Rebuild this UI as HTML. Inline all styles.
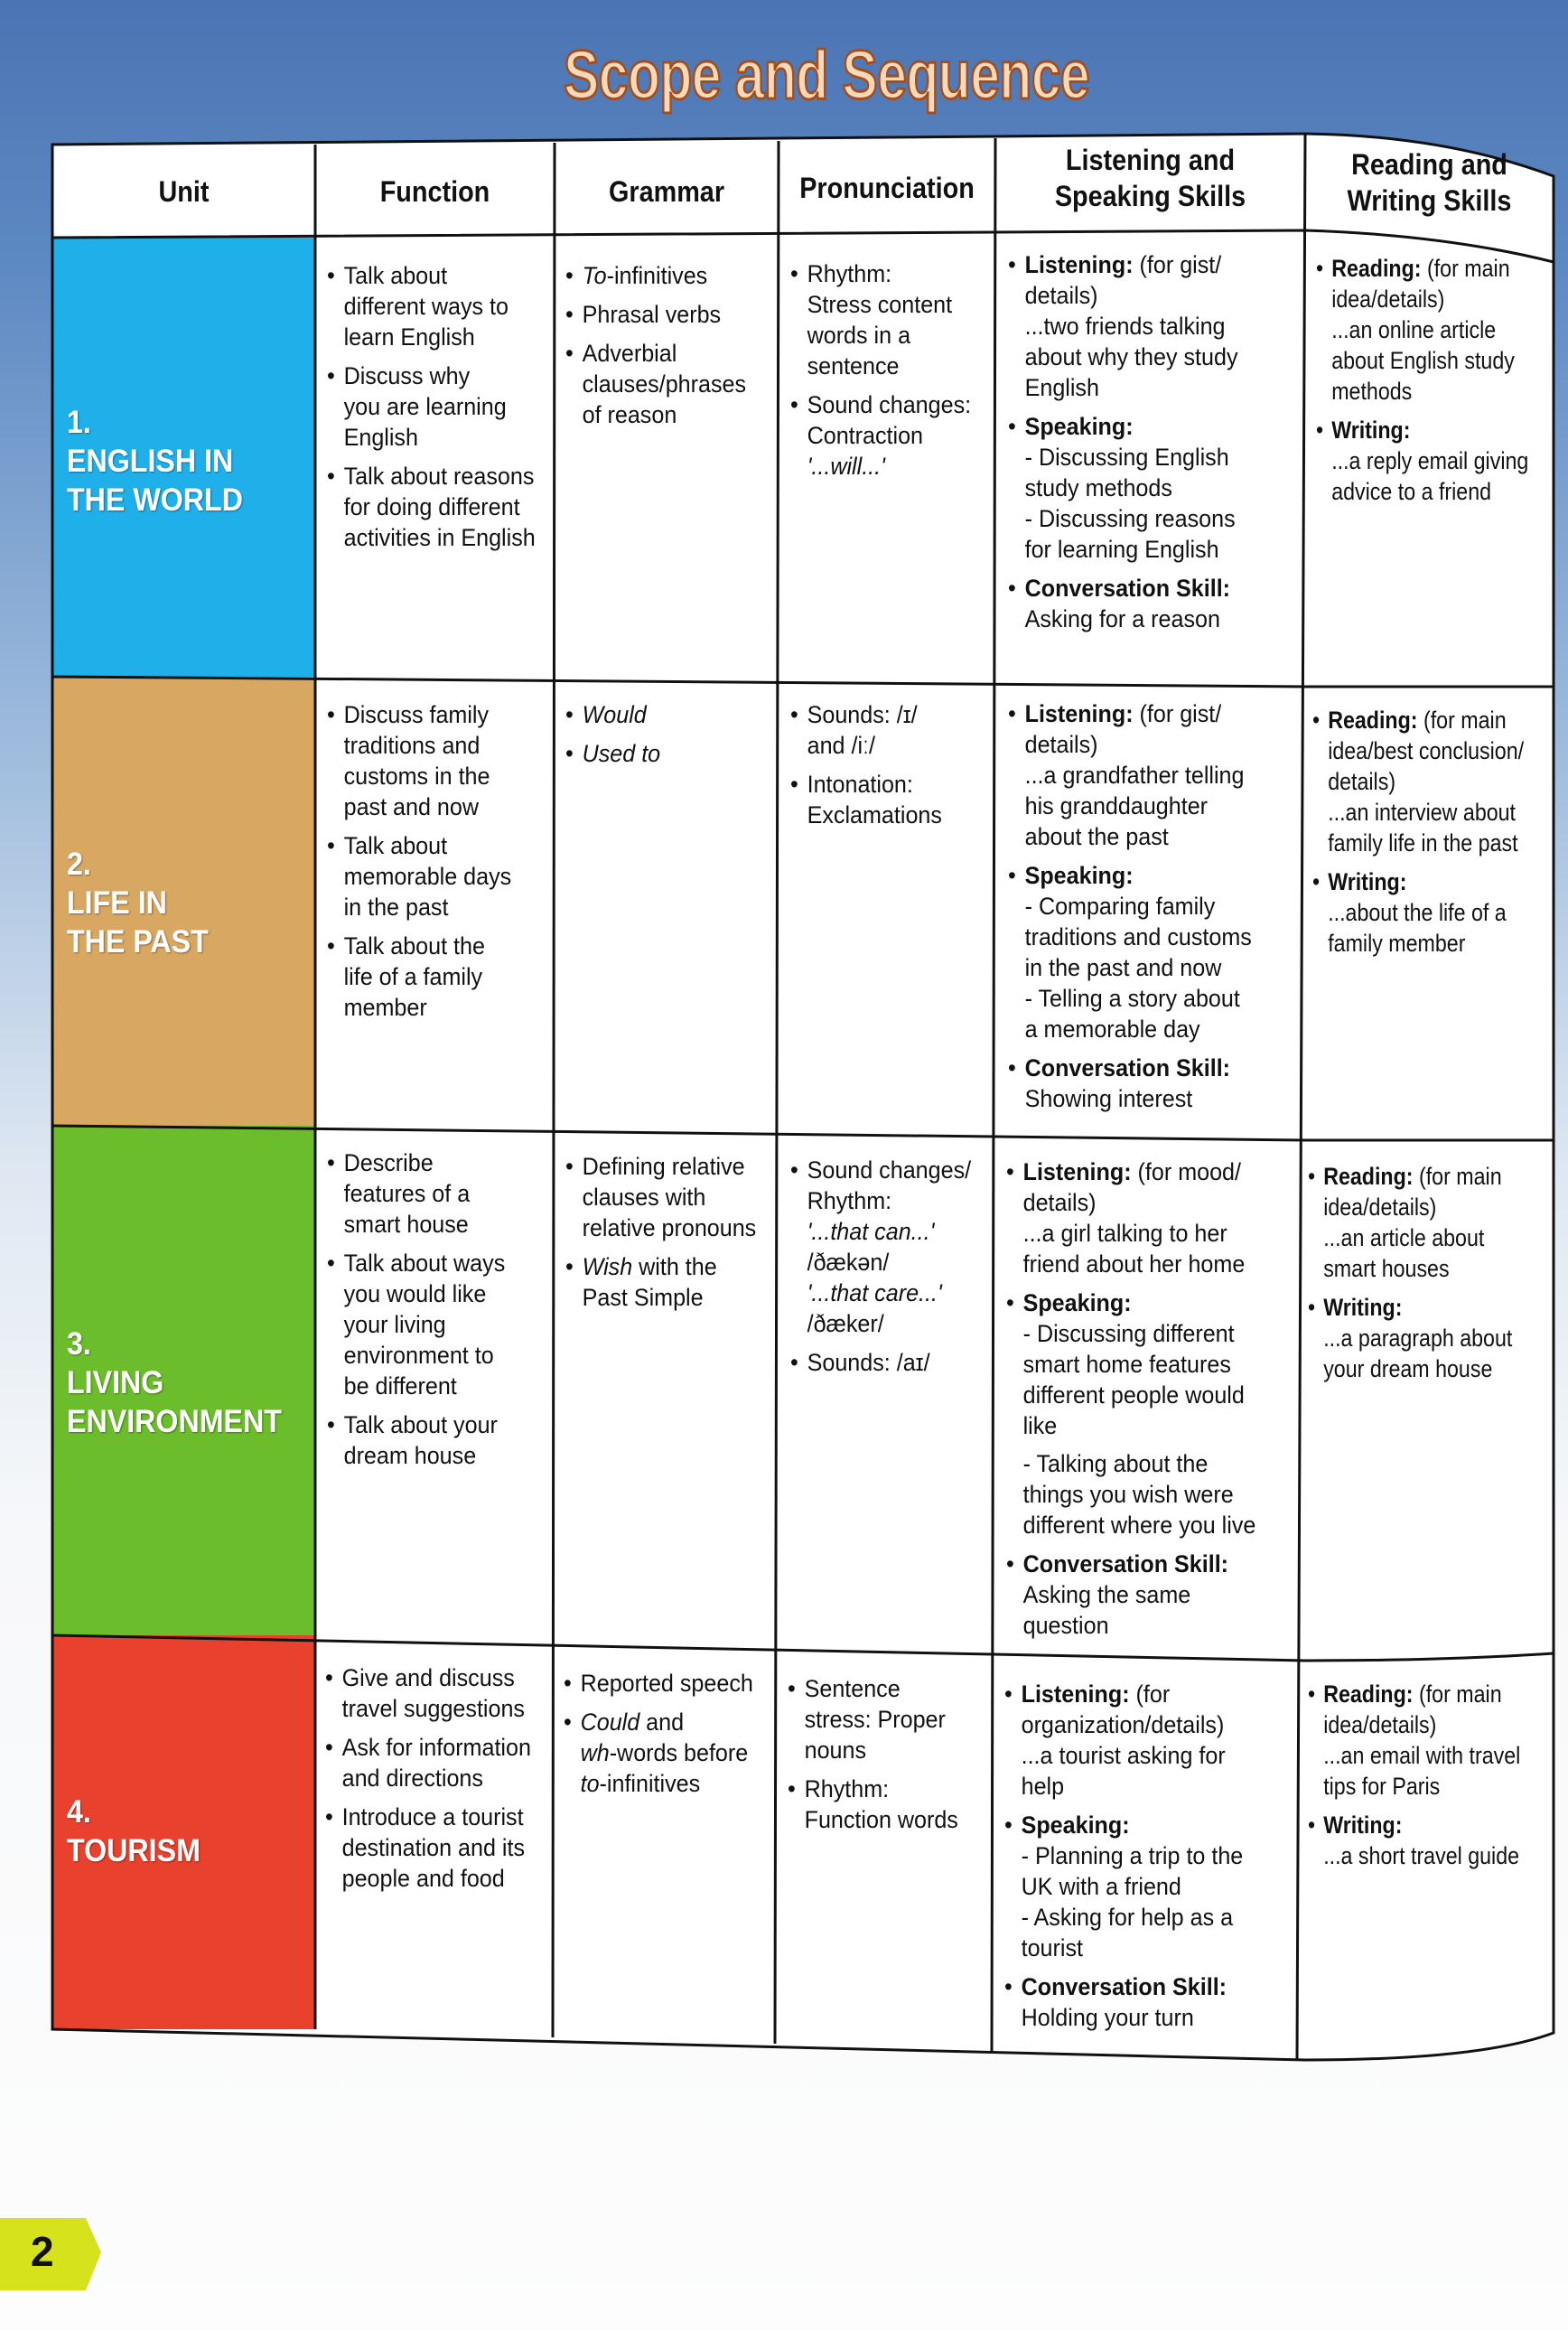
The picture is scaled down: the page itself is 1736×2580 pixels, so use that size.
<!DOCTYPE html>
<html><head><meta charset="utf-8"><style>
html,body{margin:0;padding:0}
body{width:1736px;height:2580px;position:relative;overflow:hidden;
background:linear-gradient(180deg,#4a74b3 0px,#5e8ac3 300px,#9bb9dc 800px,#dfe8f2 1300px,#f7f8fa 1700px,#fdfdfd 2580px);
font-family:"Liberation Sans",sans-serif;color:#111}
.t{position:absolute;white-space:nowrap;font-size:27px;line-height:34px;transform:scaleX(0.93);transform-origin:0 0}
.t ul{margin:0;padding:0;list-style:none}
.t li{position:relative;padding-left:20px;margin-bottom:9px}
.t li:before{content:"•";position:absolute;left:0;top:0}
.r{transform:scaleX(0.86)}
b{font-weight:bold}
.h{position:absolute;font-weight:bold;font-size:32px;line-height:40px;text-align:center;color:#111;transform:scaleX(0.9)}
.u{position:absolute;left:74px;color:#fff;font-weight:bold;font-size:35px;line-height:43px;text-shadow:1px 1px 2px rgba(0,0,0,.4);transform:scaleX(0.92);transform-origin:0 0}
</style></head><body>
<div style="position:absolute;left:0;top:40px;width:1830px;text-align:center;font-weight:bold;font-size:76px;color:#f6d9b8;-webkit-text-stroke:3px #a34e1c;letter-spacing:-1px;transform:scaleX(0.78);transform-origin:915px 0">Scope and Sequence</div>

<svg width="1736" height="2580" style="position:absolute;left:0;top:0">
<path d="M58 160 L1445 148 Q1600 150 1720 195 L1720 2250 Q1640 2280 1445 2280 L58 2246 Z" fill="#fff"/>
<rect x="58" y="263" width="291" height="486" fill="#1fb0ea"/>
<rect x="58" y="749" width="291" height="497" fill="#d8a862"/>
<rect x="58" y="1246" width="291" height="564" fill="#6cbd2b"/>
<rect x="58" y="1810" width="291" height="436" fill="#e8412e"/>
<g stroke="#111" stroke-width="3" fill="none">
<path d="M58 160 L1445 148 Q1600 150 1720 195 L1720 2250 Q1640 2280 1445 2280 L58 2246 Z"/>
<path d="M58 263 L1445 255 Q1600 260 1720 290"/>
<path d="M58 749 L1445 760 Q1600 760 1720 760"/>
<path d="M58 1246 L1445 1262 Q1600 1262 1720 1262"/>
<path d="M58 1810 L1445 1838 Q1600 1838 1720 1830"/>
<line x1="349" y1="160" x2="349" y2="2246"/>
<line x1="614" y1="158" x2="612" y2="2255"/>
<line x1="862" y1="156" x2="858" y2="2262"/>
<line x1="1102" y1="153" x2="1098" y2="2272"/>
<line x1="1445" y1="148" x2="1436" y2="2280"/>
</g>
<path d="M0 2455 L95 2455 L112 2493 L95 2535 L0 2535 Z" fill="#d6e21c"/>
</svg>
<div style="position:absolute;left:34px;top:2465px;font-weight:bold;font-size:46px">2</div>

<div class="h" style="left:58px;top:192px;width:291px">Unit</div>
<div class="h" style="left:349px;top:192px;width:265px">Function</div>
<div class="h" style="left:614px;top:192px;width:248px">Grammar</div>
<div class="h" style="left:862px;top:188px;width:240px">Pronunciation</div>
<div class="h" style="left:1102px;top:157px;width:343px">Listening and<br>Speaking Skills</div>
<div class="h" style="left:1445px;top:162px;width:275px">Reading and<br>Writing Skills</div>

<div class="u" style="top:446px">1.<br>ENGLISH IN<br>THE WORLD</div>
<div class="u" style="top:935px">2.<br>LIFE IN<br>THE PAST</div>
<div class="u" style="top:1466px">3.<br>LIVING<br>ENVIRONMENT</div>
<div class="u" style="top:1984px">4.<br>TOURISM</div>

<!-- Row 1 -->
<div class="t" style="left:362px;top:288px"><ul><li>Talk about<br>different ways to<br>learn English</li><li>Discuss why<br>you are learning<br>English</li><li>Talk about reasons<br>for doing different<br>activities in English</li></ul></div>
<div class="t" style="left:626px;top:288px"><ul><li><i>To</i>-infinitives</li><li>Phrasal verbs</li><li>Adverbial<br>clauses/phrases<br>of reason</li></ul></div>
<div class="t" style="left:875px;top:286px"><ul><li>Rhythm:<br>Stress content<br>words in a<br>sentence</li><li>Sound changes:<br>Contraction<br><i>'...will...'</i></li></ul></div>
<div class="t" style="left:1116px;top:276px"><ul><li><b>Listening:</b> (for gist/<br>details)<br>...two friends talking<br>about why they study<br>English</li><li><b>Speaking:</b><br>- Discussing English<br>study methods<br>- Discussing reasons<br>for learning English</li><li><b>Conversation Skill:</b><br>Asking for a reason</li></ul></div>
<div class="t r" style="left:1457px;top:280px"><ul><li><b>Reading:</b> (for main<br>idea/details)<br>...an online article<br>about English study<br>methods</li><li><b>Writing:</b><br>...a reply email giving<br>advice to a friend</li></ul></div>

<!-- Row 2 -->
<div class="t" style="left:362px;top:774px"><ul><li>Discuss family<br>traditions and<br>customs in the<br>past and now</li><li>Talk about<br>memorable days<br>in the past</li><li>Talk about the<br>life of a family<br>member</li></ul></div>
<div class="t" style="left:626px;top:774px"><ul><li><i>Would</i></li><li><i>Used to</i></li></ul></div>
<div class="t" style="left:875px;top:774px"><ul><li>Sounds: /ɪ/<br>and /iː/</li><li>Intonation:<br>Exclamations</li></ul></div>
<div class="t" style="left:1116px;top:773px"><ul><li><b>Listening:</b> (for gist/<br>details)<br>...a grandfather telling<br>his granddaughter<br>about the past</li><li><b>Speaking:</b><br>- Comparing family<br>traditions and customs<br>in the past and now<br>- Telling a story about<br>a memorable day</li><li><b>Conversation Skill:</b><br>Showing interest</li></ul></div>
<div class="t r" style="left:1453px;top:780px"><ul><li><b>Reading:</b> (for main<br>idea/best conclusion/<br>details)<br>...an interview about<br>family life in the past</li><li><b>Writing:</b><br>...about the life of a<br>family member</li></ul></div>

<!-- Row 3 -->
<div class="t" style="left:362px;top:1270px"><ul><li>Describe<br>features of a<br>smart house</li><li>Talk about ways<br>you would like<br>your living<br>environment to<br>be different</li><li>Talk about your<br>dream house</li></ul></div>
<div class="t" style="left:626px;top:1274px"><ul><li>Defining relative<br>clauses with<br>relative pronouns</li><li><i>Wish</i> with the<br>Past Simple</li></ul></div>
<div class="t" style="left:875px;top:1278px"><ul><li>Sound changes/<br>Rhythm:<br><i>'...that can...'</i><br>/ðækən/<br><i>'...that care...'</i><br>/ðæker/</li><li>Sounds: /aɪ/</li></ul></div>
<div class="t" style="left:1114px;top:1280px"><ul><li><b>Listening:</b> (for mood/<br>details)<br>...a girl talking to her<br>friend about her home</li><li><b>Speaking:</b><br>- Discussing different<br>smart home features<br>different people would<br>like<br><span style="display:block;height:8px"></span>- Talking about the<br>things you wish were<br>different where you live</li><li><b>Conversation Skill:</b><br>Asking the same<br>question</li></ul></div>
<div class="t r" style="left:1448px;top:1285px"><ul><li><b>Reading:</b> (for main<br>idea/details)<br>...an article about<br>smart houses</li><li><b>Writing:</b><br>...a paragraph about<br>your dream house</li></ul></div>

<!-- Row 4 -->
<div class="t" style="left:360px;top:1840px"><ul><li>Give and discuss<br>travel suggestions</li><li>Ask for information<br>and directions</li><li>Introduce a tourist<br>destination and its<br>people and food</li></ul></div>
<div class="t" style="left:624px;top:1846px"><ul><li>Reported speech</li><li><i>Could</i> and<br><i>wh</i>-words before<br><i>to</i>-infinitives</li></ul></div>
<div class="t" style="left:872px;top:1852px"><ul><li>Sentence<br>stress: Proper<br>nouns</li><li>Rhythm:<br>Function words</li></ul></div>
<div class="t" style="left:1112px;top:1858px"><ul><li><b>Listening:</b> (for<br>organization/details)<br>...a tourist asking for<br>help</li><li><b>Speaking:</b><br>- Planning a trip to the<br>UK with a friend<br>- Asking for help as a<br>tourist</li><li><b>Conversation Skill:</b><br>Holding your turn</li></ul></div>
<div class="t r" style="left:1448px;top:1858px"><ul><li><b>Reading:</b> (for main<br>idea/details)<br>...an email with travel<br>tips for Paris</li><li><b>Writing:</b><br>...a short travel guide</li></ul></div>
</body></html>
